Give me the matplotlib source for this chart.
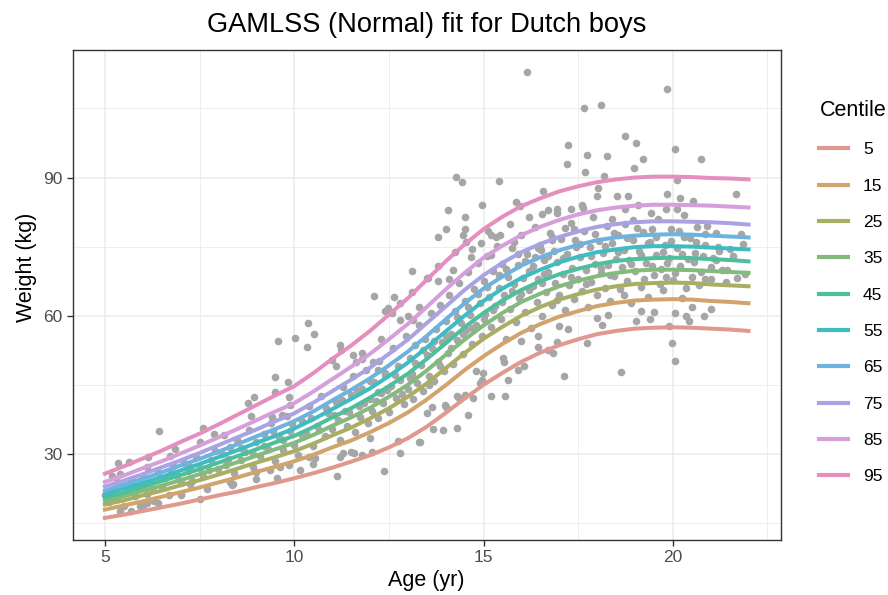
import matplotlib
matplotlib.use("Agg")
import matplotlib.pyplot as plt

plt.rcParams['font.family'] = ['Liberation Sans', 'DejaVu Sans']

# Curvas de centiles (edad en años, cada medio año)
ages = [5, 5.5, 6, 6.5, 7, 7.5, 8, 8.5, 9, 9.5, 10, 10.5, 11, 11.5, 12, 12.5, 13, 13.5,
        14, 14.5, 15, 15.5, 16, 16.5, 17, 17.5, 18, 18.5, 19, 19.5, 20, 20.5, 21, 21.5, 22]
c05 = [16.1, 16.8, 17.6, 18.4, 19.2, 20.1, 21.0, 21.8, 22.8, 23.7, 24.7, 25.8, 27.0, 28.3, 29.7, 31.4, 33.4, 35.9,
       38.9, 42.0, 45.0, 47.6, 50.0, 52.0, 53.6, 54.9, 56.0, 56.7, 57.2, 57.4, 57.5, 57.4, 57.2, 57.0, 56.7]
c15 = [17.9, 18.8, 19.7, 20.7, 21.7, 22.7, 23.8, 24.9, 26.1, 27.2, 28.4, 29.8, 31.4, 32.9, 34.7, 36.7, 39.0, 41.8,
       44.9, 48.2, 51.2, 53.9, 56.3, 58.2, 59.8, 61.0, 62.1, 62.8, 63.3, 63.5, 63.6, 63.5, 63.2, 63.0, 62.7]
c25 = [19.0, 19.9, 21.0, 22.0, 23.2, 24.3, 25.5, 26.8, 28.1, 29.3, 30.6, 32.2, 34.0, 35.7, 37.7, 39.9, 42.4, 45.3,
       48.6, 51.9, 55.0, 57.6, 60.0, 61.9, 63.5, 64.7, 65.7, 66.4, 66.9, 67.1, 67.2, 67.1, 66.8, 66.6, 66.4]
c35 = [19.8, 20.8, 22.0, 23.1, 24.3, 25.6, 26.9, 28.2, 29.6, 31.0, 32.4, 34.1, 36.1, 37.9, 40.0, 42.4, 45.0, 48.1,
       51.5, 54.8, 57.9, 60.6, 63.0, 64.8, 66.4, 67.6, 68.6, 69.3, 69.8, 70.0, 70.0, 69.9, 69.7, 69.5, 69.3]
c45 = [20.5, 21.6, 22.9, 24.1, 25.4, 26.7, 28.1, 29.5, 31.0, 32.5, 33.9, 35.8, 37.9, 39.9, 42.2, 44.7, 47.4, 50.6,
       54.0, 57.5, 60.6, 63.3, 65.6, 67.5, 69.0, 70.2, 71.2, 71.9, 72.3, 72.5, 72.6, 72.5, 72.3, 72.1, 71.8]
c55 = [21.3, 22.5, 23.7, 25.0, 26.4, 27.8, 29.3, 30.8, 32.4, 33.9, 35.5, 37.5, 39.7, 41.9, 44.2, 46.9, 49.8, 53.1,
       56.6, 60.0, 63.2, 65.9, 68.2, 70.0, 71.6, 72.8, 73.8, 74.4, 74.9, 75.1, 75.1, 75.0, 74.8, 74.6, 74.4]
c65 = [22.0, 23.3, 24.6, 26.0, 27.5, 28.9, 30.5, 32.1, 33.8, 35.4, 37.1, 39.2, 41.6, 43.9, 46.4, 49.2, 52.2, 55.6,
       59.2, 62.7, 65.9, 68.5, 70.9, 72.7, 74.2, 75.4, 76.4, 77.0, 77.4, 77.6, 77.7, 77.6, 77.4, 77.2, 77.0]
c75 = [22.9, 24.2, 25.6, 27.1, 28.6, 30.2, 31.9, 33.6, 35.3, 37.1, 38.8, 41.1, 43.6, 46.1, 48.7, 51.7, 54.8, 58.4,
       62.0, 65.6, 68.8, 71.5, 73.8, 75.6, 77.1, 78.3, 79.3, 79.9, 80.3, 80.5, 80.5, 80.4, 80.3, 80.1, 79.8]
c85 = [23.9, 25.3, 26.9, 28.4, 30.1, 31.8, 33.6, 35.4, 37.3, 39.2, 41.0, 43.5, 46.2, 48.9, 51.7, 54.9, 58.2, 61.9,
       65.7, 69.3, 72.6, 75.2, 77.5, 79.3, 80.8, 82.0, 82.9, 83.5, 83.9, 84.1, 84.1, 84.0, 83.9, 83.7, 83.5]
c95 = [25.7, 27.3, 29.0, 30.7, 32.6, 34.4, 36.4, 38.5, 40.6, 42.7, 44.7, 47.5, 50.6, 53.5, 56.7, 60.2, 63.8, 67.8,
       71.8, 75.5, 78.8, 81.5, 83.8, 85.5, 87.0, 88.1, 89.0, 89.6, 90.0, 90.2, 90.2, 90.1, 89.9, 89.8, 89.6]

centiles = [c05, c15, c25, c35, c45, c55, c65, c75, c85, c95]
centile_labels = ['5', '15', '25', '35', '45', '55', '65', '75', '85', '95']
colores = ['#E0998E', '#D2A46D', '#A9AF62', '#83BB7C', '#4DBF9C',
           '#3DBDC2', '#6DB3DD', '#A9A3E3', '#D69EDA', '#E48FBF']

# Puntos (edad, peso) leidos aproximadamente
age_pts = [16.14, 19.85, 17.65, 18.11, 18.74, 19.04, 20.07, 17.22, 17.21, 17.74, 18.26, 19.21, 20.75,
           18.97, 17.69, 18.17, 14.26, 14.43, 15.41, 20.1, 21.66, 16.56, 18.03, 18.52, 18.81, 19.84,
           20.19, 20.52, 18.0, 14.95, 15.87, 15.96, 14.07, 16.54, 16.93, 16.94, 17.32, 17.61, 17.63,
           14.5, 19.83, 20.1, 19.43, 20.29, 18.73, 19.08, 14.01, 13.79, 14.51, 14.45, 14.54, 15.12,
           15.43, 15.33, 15.81, 16.82, 17.16, 17.41, 18.4, 18.95, 19.45, 20.84, 20.58, 21.21, 21.13,
           21.42, 20.84, 21.0, 19.83, 13.54, 13.79, 14.08, 14.25, 14.93, 14.66, 15.21, 16.53,
           12.11, 12.64, 13.1, 13.12, 13.52,
           12.4, 12.49, 12.58, 12.8, 13.0, 13.13, 10.36, 10.51, 10.03, 9.56, 10.34, 11.2, 11.24,
           11.0, 11.11, 11.56, 11.79, 11.64, 12.09, 12.2, 12.4, 9.49, 9.84, 9.5, 8.95, 8.78, 8.87,
           9.41, 9.68, 9.85, 9.9, 7.59, 7.52, 7.88, 8.14, 6.42, 6.84, 6.71, 6.13, 5.63, 5.34, 6.1,
           5.39, 5.2, 5.33, 5.01, 5.39, 5.68, 5.92, 6.4, 6.12, 7.0, 7.52, 7.26, 8.38, 8.98, 9.55,
           11.13, 12.37, 12.8, 13.3, 12.75, 12.05, 11.79, 11.58, 11.3, 11.2, 10.55, 10.38, 10.14,
           9.63, 9.37, 9.85, 8.31, 8.36,
           17.13, 18.63, 19.99, 20.05, 19.91, 20.82, 20.35, 20.44, 20.05, 19.39, 19.04, 19.17, 17.73,
           18.14, 18.29, 16.84, 16.71, 16.93, 16.44, 16.44, 17.23, 15.56, 15.19, 15.65, 15.92, 16.07,
           15.52, 15.54, 14.95, 14.9, 14.98, 14.6, 14.29, 13.92, 13.67, 13.32, 13.97, 14.0, 14.29,
           14.51, 14.35, 13.63, 14.73,
           5.1, 5.2, 5.3, 5.4, 5.5, 5.6, 5.7, 5.8, 5.9, 6.0, 6.1, 6.2, 6.3, 6.4, 6.5, 6.6, 6.7, 6.8,
           6.9, 7.0, 7.1, 7.2, 7.3, 7.4, 7.5, 7.6, 7.7, 7.8, 7.9, 8.0,
           8.1, 8.2, 8.3, 8.4, 8.5, 8.6, 8.7, 8.8, 8.9, 9.0, 9.1, 9.2, 9.3, 9.4, 9.5, 9.6, 9.7, 9.8,
           9.9, 10.0, 10.1, 10.2, 10.3, 10.4, 10.5, 10.6, 10.7, 10.8, 10.9, 11.0,
           11.1, 11.15, 11.2, 11.3, 11.35, 11.4, 11.5, 11.55, 11.6, 11.7, 11.75, 11.8, 11.9, 11.95,
           12.0, 12.05, 12.1, 12.2, 12.25, 12.3, 12.35, 12.4, 12.5, 12.55, 12.6, 12.7, 12.75, 12.8,
           12.9, 12.95,
           13.0, 13.05, 13.1, 13.15, 13.2, 13.25, 13.3, 13.35, 13.4, 13.45, 13.5, 13.55, 13.6, 13.65,
           13.7, 13.75, 13.8, 13.85, 13.9, 13.95, 14.0, 14.05, 14.1, 14.15, 14.2, 14.25, 14.3, 14.35,
           14.4, 14.45,
           14.5, 14.55, 14.6, 14.65, 14.7, 14.75, 14.8, 14.85, 14.9, 14.95, 15.0, 15.05, 15.1, 15.15,
           15.2, 15.25, 15.3, 15.35, 15.4, 15.45, 15.5, 15.55, 15.6, 15.65, 15.7, 15.75, 15.8, 15.85,
           15.9, 15.95,
           16.0, 16.05, 16.1, 16.15, 16.2, 16.25, 16.3, 16.35, 16.4, 16.45, 16.5, 16.55, 16.6, 16.65,
           16.7, 16.75, 16.8, 16.85, 16.9, 16.95, 17.0, 17.05, 17.1, 17.15, 17.2, 17.25, 17.3, 17.35,
           17.4, 17.45,
           17.5, 17.55, 17.6, 17.65, 17.7, 17.75, 17.8, 17.85, 17.9, 17.95, 18.0, 18.05, 18.1, 18.15,
           18.2, 18.25, 18.3, 18.35, 18.4, 18.45, 18.5, 18.55, 18.6, 18.65, 18.7, 18.75, 18.8, 18.85,
           18.9, 18.95,
           19.0, 19.1, 19.15, 19.2, 19.3, 19.35, 19.4, 19.5, 19.55, 19.6, 19.7, 19.75, 19.8, 19.9,
           19.95, 20.0, 20.1, 20.2, 20.25, 20.3, 20.4, 20.5, 20.6, 20.7, 20.8, 20.9, 21.0, 21.2,
           21.4, 21.6, 21.8, 21.9,
           12.0, 13.5, 14.8, 16.0, 17.0, 18.0, 19.5, 20.5, 21.0, 10.5, 11.5, 9.0, 7.0, 6.0,
           11.8, 12.3, 12.8, 13.3, 13.8, 14.2, 14.7, 15.2, 15.7, 16.2, 16.7,
           16.1, 16.3, 16.45, 16.6, 16.8, 16.95, 17.1, 17.3, 17.4, 17.55, 17.7, 17.85, 17.95, 18.1,
           18.2, 18.35, 18.45, 18.55, 18.7, 18.8, 18.9, 19.05, 19.15, 19.25, 19.35, 19.45, 19.55,
           19.65, 19.75, 19.85, 19.95, 20.05, 20.15, 20.25, 20.35, 20.45, 20.55, 20.65, 20.75, 20.85,
           21.05, 21.15, 21.3, 21.5, 21.7, 21.85,
           12.15, 12.45, 12.65, 12.85, 13.05, 13.2, 13.4, 13.55, 13.7, 13.85, 14.0, 14.15, 14.3, 14.45,
           14.6, 14.7, 14.85, 15.0, 15.1, 15.25, 15.4, 15.5, 15.6, 15.75, 15.9, 16.0, 16.2, 16.35,
           16.55, 16.7,
           9.2, 9.45, 9.7, 9.95, 10.2, 10.45, 10.65, 10.85, 11.05, 11.25, 11.45, 11.65, 11.85, 12.0, 12.2,
           5.25, 5.75, 6.25, 6.75, 7.25, 7.75, 8.25, 8.6, 8.9, 6.0]
wt_pts = [113.0, 109.2, 105.1, 105.7, 99.1, 97.4, 96.1, 97.0, 93.0, 94.9, 94.6, 94.1, 94.1,
          92.0, 91.1, 90.3, 90.1, 89.1, 89.3, 89.4, 86.5, 87.0, 87.8, 86.0, 86.0, 86.4,
          85.6, 85.0, 85.9, 84.0, 84.8, 83.9, 83.0, 82.1, 83.1, 82.3, 83.1, 84.1, 83.4,
          81.5, 83.1, 83.1, 82.4, 81.8, 83.1, 84.1, 78.9, 77.0, 78.8, 77.6, 76.0, 78.3,
          77.6, 77.0, 76.0, 77.1, 79.1, 76.5, 81.0, 80.8, 78.8, 77.7, 73.6, 74.0, 72.1,
          70.0, 68.0, 68.0, 68.5, 68.1, 70.7, 68.0, 73.9, 75.8, 72.8, 73.2, 74.3,
          64.2, 64.0, 69.8, 65.2, 68.1,
          61.1, 61.6, 60.6, 62.7, 60.0, 59.1, 58.5, 56.1, 55.1, 54.6, 53.2, 53.7, 52.6,
          50.4, 49.0, 51.5, 51.9, 50.0, 50.0, 48.2, 47.2, 46.7, 45.6, 43.5, 42.4, 41.0, 38.3,
          38.1, 38.5, 42.4, 40.6, 35.6, 32.5, 34.3, 34.1, 34.9, 31.0, 29.6, 29.4, 28.3, 28.1, 27.2,
          25.6, 25.1, 24.0, 21.1, 17.6, 17.6, 18.7, 19.4, 19.3, 21.3, 20.2, 23.5, 23.5, 24.5, 24.7,
          25.1, 26.2, 30.2, 32.6, 32.7, 30.5, 29.8, 30.3, 30.2, 29.4, 29.1, 29.4, 26.5,
          27.2, 26.5, 27.6, 24.0, 23.3,
          46.9, 47.8, 54.0, 50.1, 57.8, 60.0, 60.0, 58.9, 60.6, 59.3, 58.9, 61.1, 54.0,
          58.0, 60.2, 51.9, 52.6, 54.4, 53.3, 55.6, 57.1, 42.6, 42.6, 46.1, 48.2, 49.1,
          50.8, 50.0, 46.1, 45.4, 47.5, 38.5, 35.6, 35.1, 35.4, 32.5, 40.6, 40.1, 42.6,
          42.8, 42.1, 40.1, 42.1,
          19.5, 22.0, 20.3, 23.1, 18.6, 21.7, 24.4, 20.9, 22.6, 25.3, 21.4, 23.8, 19.8, 26.1, 22.9, 24.7, 21.0, 27.3,
          25.2, 23.6, 28.0, 26.2, 24.1, 29.4, 27.0, 25.1, 22.4, 28.6, 30.7, 26.8,
          29.9, 27.5, 31.6, 25.9, 33.0, 28.7, 30.4, 35.2, 27.1, 32.5, 29.6, 34.4, 31.0, 36.8, 28.4, 33.6, 30.8, 38.2,
          35.0, 32.0, 29.8, 37.1, 34.6, 40.3, 31.7, 36.0, 42.5, 33.9, 38.8, 35.5,
          41.2, 37.4, 33.0, 44.6, 39.3, 36.1, 42.8, 46.9, 34.8, 40.5, 38.0, 44.1, 48.3, 36.7,
          42.0, 39.4, 45.7, 37.8, 50.2, 43.3, 41.0, 47.5, 39.0, 44.8, 53.0, 42.2, 49.0, 46.1,
          40.8, 55.6,
          44.0, 50.8, 47.3, 41.9, 53.7, 45.5, 58.0, 49.2, 43.6, 55.0, 51.4, 47.0, 60.5, 53.1,
          45.8, 57.2, 50.0, 62.4, 54.3, 48.1, 58.8, 52.0, 64.6, 56.1, 49.5, 61.0, 54.8, 67.2,
          58.5, 51.6,
          63.3, 56.9, 69.6, 60.2, 53.8, 65.8, 58.0, 71.4, 62.7, 55.5, 67.5, 60.4, 73.0, 64.1,
          57.6, 69.8, 62.2, 75.2, 66.0, 59.3, 71.2, 64.5, 55.0, 68.3, 61.5, 74.6, 66.9, 58.7,
          71.0, 63.8,
          77.5, 68.2, 60.9, 73.4, 65.6, 57.4, 70.8, 79.2, 63.0, 67.9, 75.4, 60.0, 72.2, 65.1,
          69.5, 78.0, 62.3, 74.1, 67.0, 71.6, 64.4, 76.7, 69.0, 61.2, 73.5, 66.6, 80.2, 70.4,
          63.7, 75.0,
          68.0, 72.8, 65.3, 78.5, 70.0, 62.0, 74.9, 67.4, 81.5, 71.3, 64.6, 76.2, 69.2, 73.6,
          66.0, 79.4, 71.0, 63.2, 75.8, 68.6, 72.4, 77.6, 65.8, 70.5, 74.2, 80.0, 67.5, 72.0,
          62.8, 76.5,
          69.8, 74.0, 66.3, 78.2, 71.5, 64.0, 76.0, 68.8, 73.2, 81.0, 70.2, 65.5, 75.3, 72.6,
          78.9, 67.8, 74.6, 70.9, 63.9, 77.2, 72.3, 68.4, 75.9, 66.7, 73.0, 79.5, 70.6, 75.0,
          67.3, 72.9, 77.8, 69.0,
          33.5, 38.8, 48.0, 54.5, 57.8, 59.5, 60.8, 62.0, 61.5, 27.8, 30.5, 26.0, 21.0, 19.0,
          50.5, 55.0, 59.0, 62.0, 67.5, 70.0, 74.5, 77.5, 80.0, 81.5, 83.0,
          71.9, 66.4, 74.8, 69.1, 76.4, 63.5, 72.6, 68.3, 78.9, 75.6, 66.8, 73.0, 77.8, 70.3,
          75.1, 68.9, 78.0, 73.9, 64.5, 76.9, 71.2, 79.0, 73.1, 68.0, 75.7, 70.7, 77.2,
          66.9, 73.8, 71.4, 76.2, 69.3, 78.3, 73.4, 66.0, 76.8, 71.7, 79.2, 69.6, 75.4,
          72.5, 78.0, 70.0, 74.4, 68.2, 75.6,
          41.5, 43.9, 47.2, 43.0, 46.4, 49.8, 52.6, 44.9, 54.6, 49.1, 55.6, 52.9, 59.7, 56.0,
          62.0, 57.3, 64.8, 59.2, 66.2, 61.3, 68.9, 63.0, 70.1, 65.3, 73.5, 64.7, 69.8, 72.8,
          67.0, 73.0,
          31.8, 34.9, 33.1, 36.4, 34.0, 37.8, 35.2, 40.0, 38.4, 41.6, 39.0, 43.6, 41.1, 45.9, 43.5,
          21.6, 23.0, 22.3, 25.9, 27.1, 26.4, 28.8, 31.3, 30.0, 23.1]

fig = plt.figure(figsize=(8.88, 5.95), dpi=100)
ax = fig.add_axes([0.0819, 0.0924, 0.7973, 0.8236])

ax.scatter(age_pts, wt_pts, s=30, color='#A6A6A6', linewidths=0, zorder=2)

for i in range(len(centiles)):
    ax.plot(ages, centiles[i], color=colores[i], lw=2.9, label=centile_labels[i],
            solid_joinstyle='round', zorder=3)

ax.set_xlim(4.15, 22.85)
ax.set_ylim(11.3, 117.7)
ax.set_xticks([5, 10, 15, 20])
ax.set_xticks([7.5, 12.5, 17.5, 22.5], minor=True)
ax.set_yticks([30, 60, 90])
ax.set_yticks([15, 45, 75, 105], minor=True)
ax.grid(which='major', color='#EBEBEB', lw=1.1, zorder=0)
ax.grid(which='minor', color='#EBEBEB', lw=0.6, zorder=0)
ax.set_axisbelow(True)
for s in ax.spines.values():
    s.set_color('#333333')
    s.set_linewidth(1.0)
ax.tick_params(which='major', length=4, width=1.0, color='#333333',
               labelcolor='#4D4D4D', labelsize=12.5, pad=3.5)
ax.tick_params(which='minor', length=0)

fig.text(0.4803, 0.958, 'GAMLSS (Normal) fit for Dutch boys', ha='center', va='center', fontsize=19.6)
fig.text(0.4803, 0.025, 'Age (yr)', ha='center', va='center', fontsize=15.5)
fig.text(0.030, 0.5515, 'Weight (kg)', ha='center', va='center', rotation=90, fontsize=15.5)

leg = ax.legend(title='Centile', loc='upper left', bbox_to_anchor=(0.915, 0.8435),
                bbox_transform=fig.transFigure, frameon=False, fontsize=12.5,
                title_fontsize=15.5, handlelength=1.65, handletextpad=0.85,
                labelspacing=1.22, borderaxespad=0)
leg._legend_box.align = 'left'
for h in leg.get_lines():
    h.set_linewidth(3.0)

fig.savefig('out.png', dpi=100)
